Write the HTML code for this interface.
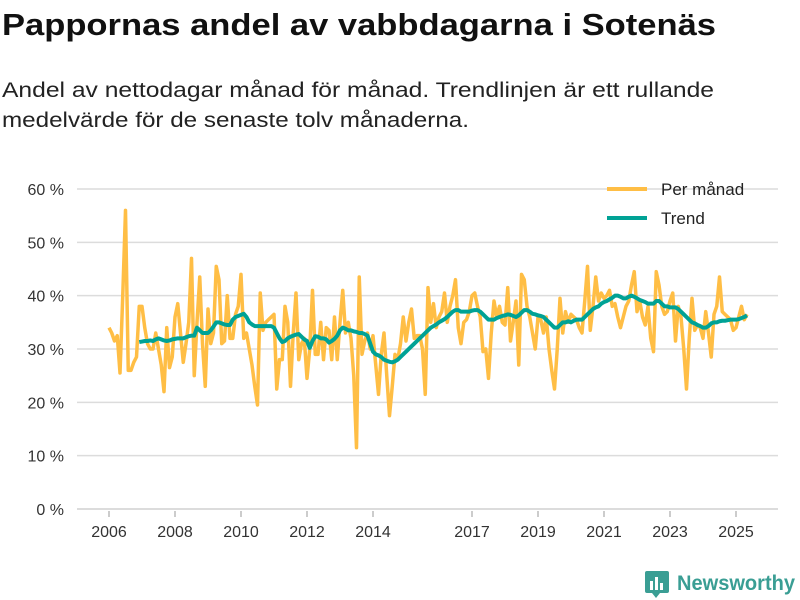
<!DOCTYPE html>
<html><head><meta charset="utf-8"><style>
body{margin:0;background:#fff;}
svg{display:block;font-family:"Liberation Sans",sans-serif;}
</style></head><body>
<svg id="chart" width="800" height="600">
<text x="2" y="35" font-size="31" font-weight="bold" fill="#111" textLength="714" lengthAdjust="spacingAndGlyphs">Pappornas andel av vabbdagarna i Sotenäs</text>
<text x="2" y="97" font-size="21" fill="#222" textLength="712" lengthAdjust="spacingAndGlyphs">Andel av nettodagar månad för månad. Trendlinjen är ett rullande</text>
<text x="2" y="127" font-size="21" fill="#222" textLength="467" lengthAdjust="spacingAndGlyphs">medelvärde för de senaste tolv månaderna.</text>
<g id="grid"></g><g id="xaxis"></g><g id="series"></g>
<g>
<line x1="607" y1="189" x2="647" y2="189" stroke="#ffbe45" stroke-width="4"/>
<text x="661" y="195" font-size="17" fill="#222">Per månad</text>
<line x1="607" y1="218" x2="647" y2="218" stroke="#00a295" stroke-width="4"/>
<text x="661" y="224" font-size="17" fill="#222">Trend</text>
</g>
<g>
<rect x="645" y="571" width="24" height="22" rx="2" fill="#3a9e94"/>
<rect x="650" y="581" width="3" height="9" fill="#fff"/><rect x="655" y="577" width="3" height="13" fill="#fff"/><rect x="660" y="583" width="3" height="7" fill="#fff"/>
<polygon points="652,593 660,593 656,598" fill="#3a9e94"/>
<text x="677" y="590" font-size="21" font-weight="bold" fill="#3a9e94" textLength="118" lengthAdjust="spacingAndGlyphs">Newsworthy</text>
</g>
</svg>
<script>
const yTicks=[0,10,20,30,40,50,60];
const xTickYears=[2006,2008,2010,2012,2014,2017,2019,2021,2023,2025];
const startYear=2006;
const perMonth=[34,33,31.5,32.5,25.5,40,56,26,26,27.5,28.5,38,38,34,31,30,30,33,30,27,22,34,26.5,28.5,36,38.5,33,27.5,31,35,47,25,35,43.5,31,23,37.5,31,33,45.5,43,31,31.5,40,32,32,36.5,38,44,32,33,30,27,23,19.5,40.5,33.5,35,35.5,36,36.5,22.5,28,28,38,35,23,33,40.5,28,31,32,24.5,30,41,29,29,35,28,34,33.5,28,36,28,35,41,33,35,32,25,11.5,43.5,29,31.5,33,30,32.5,27,21.5,29,33,25,17.5,23,29,28,31,36,31.5,35,37.5,32,32.5,32.5,30,21.5,41.5,35,38.5,34,36,37,40.5,35,38,40,43,34,31,35,35.5,37,40,40.5,38,36,29.5,30,24.5,33,39,36,38,35,34.5,41.5,31.5,35,39,27,44,43,38,36,33,30,36,35.5,33,36,30,26,22.5,30,39.5,33,37,35,36.5,36,35.5,34,33,39,45.5,33.5,38,43.5,39,40.5,39.5,40,41,38,38.5,36,34,36,38,39,42,44.5,37,39,36,34.5,38,32,29.5,44.5,42,38,36.5,37,39,40.5,31.5,38,36,30,22.5,32,39.5,33.5,34.5,34,32,37,33,28.5,36.5,38,43.5,37,36.5,36,35.5,33.5,34,36,38,35.5,36.5];
const trendStart=11;
const trend=[31.3,31.4,31.5,31.5,31.6,31.5,31.8,32,31.8,31.6,31.5,31.6,31.8,31.9,32,32,32,32.2,32.4,32.5,32.5,34,33.5,33,33,33,33.5,34.2,35,35,34.8,34.6,34.5,34.5,35.5,36,36.2,36.4,36.6,36,35,34.6,34.3,34.3,34.3,34.3,34.3,34.3,34.3,34,33,32,31.3,31.5,32,32.3,32.5,32.7,32.8,32.3,31.8,31.5,30.2,31.5,32.4,32.3,32,32,31.8,31.2,31.5,31.9,32.5,33.5,34,33.8,33.5,33.5,33.3,33.2,33,33,32.8,32.5,31,29.5,29,28.8,28.5,28,27.8,27.6,27.5,27.7,28,28.5,29,29.5,30,30.5,31,31.5,32,32.5,33,33.5,34,34.3,34.6,35,35.3,35.6,36,36.5,37,37.3,37.3,37,37,37,37,37.2,37.3,37.3,37,36.5,36,35.5,35.5,35.5,35.8,36,36.2,36.3,36.5,36.4,36.2,36,36.3,36.8,37.3,37.3,37,36.6,36.5,36.3,36.2,36,35.5,35,34.5,34,34,34.5,35,35,35.2,35,35.3,35.5,35.5,35.5,36,36.5,37,37.5,37.8,38,38.5,38.8,39,39.3,39.6,40,40,39.8,39.5,39.5,39.8,40,39.8,39.5,39.2,39,38.8,38.5,38.5,38.5,39,39,38.5,38,38,37.8,37.8,37.8,37.5,37,36.5,36,35.5,35,34.8,34.5,34.3,34,34,34.3,34.8,35,35,35.2,35.3,35.3,35.4,35.5,35.5,35.5,35.6,35.8,36,36.3];

const NS='http://www.w3.org/2000/svg';
function yS(v){return 509-v*(320/60);}
function xS(m){return 109+m*33/12;}
function xYear(y){return xS((y-startYear)*12);}
function mk(tag,attrs,parent){const e=document.createElementNS(NS,tag);for(const k in attrs)e.setAttribute(k,attrs[k]);parent.appendChild(e);return e;}
const grid=document.getElementById('grid');
yTicks.forEach(t=>{
  const l=mk('line',{x1:77,x2:778,y1:yS(t),y2:yS(t),stroke:'#dcdcdc','stroke-width':t===0?2:1.5},grid);
  
  
  const tx=mk('text',{x:64,y:yS(t)+6,'font-size':16,'text-anchor':'end',fill:'#333'},grid);
  tx.textContent=t+' %';
  
  
});
const xa=document.getElementById('xaxis');
xTickYears.forEach(y=>{
  const x=xYear(y);
  const tk=mk('line',{x1:x,x2:x,y1:511,y2:517,stroke:'#999','stroke-width':1},xa);
  
  
  const tx=mk('text',{x:x,y:537,'font-size':16,'text-anchor':'middle',fill:'#333'},xa);
  tx.textContent=y;
  
  
});
const s=document.getElementById('series');
const p1=mk('polyline',{points:perMonth.map((v,i)=>xS(i)+','+yS(v)).join(' '),fill:'none',stroke:'#ffbe45','stroke-width':3.5,'stroke-linejoin':'round'},s);


const p2=mk('polyline',{points:trend.map((v,i)=>xS(i+trendStart)+','+yS(v)).join(' '),fill:'none',stroke:'#00a295','stroke-width':4,'stroke-linejoin':'round'},s);


</script>
</body></html>
